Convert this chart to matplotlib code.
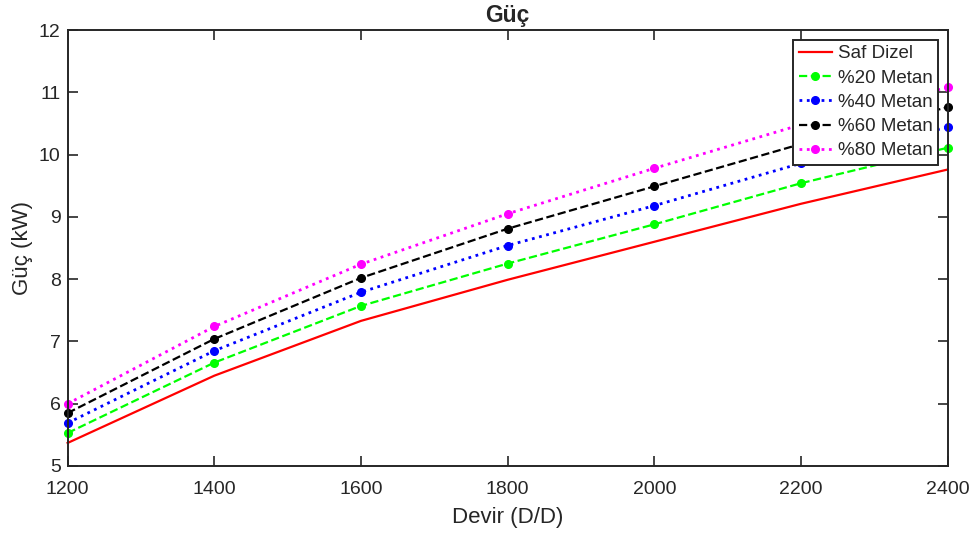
import matplotlib.pyplot as plt

plt.rcParams['font.family'] = ['Liberation Sans', 'DejaVu Sans']
plt.rcParams['text.color'] = '#262626'
plt.rcParams['axes.labelcolor'] = '#262626'

# Devir (D/D) and power values
devir = [1200, 1400, 1600, 1800, 2000, 2200, 2400]
saf_dizel = [5.37, 6.45, 7.33, 7.99, 8.60, 9.21, 9.76]
metan20 = [5.53, 6.66, 7.57, 8.25, 8.88, 9.54, 10.11]
metan40 = [5.69, 6.85, 7.79, 8.54, 9.18, 9.86, 10.44]
metan60 = [5.85, 7.04, 8.02, 8.81, 9.49, 10.17, 10.76]
metan80 = [6.00, 7.24, 8.24, 9.05, 9.78, 10.48, 11.08]

fig = plt.figure(figsize=(9.8, 5.36), dpi=100)
ax = fig.add_axes([0.069, 0.1306, 0.898, 0.8134])

ax.plot(devir, saf_dizel, '-', color='red', lw=1.6, label='Saf Dizel', clip_on=False)
ax.plot(devir, metan20, '--', color='#00ff00', marker='o', ms=5.5, lw=1.6, label='%20 Metan', clip_on=False)
ax.plot(devir, metan40, ':', color='blue', marker='o', ms=5.5, lw=2, label='%40 Metan', clip_on=False)
ax.plot(devir, metan60, '--', color='black', marker='o', ms=5.5, lw=1.6, label='%60 Metan', clip_on=False)
ax.plot(devir, metan80, ':', color='magenta', marker='o', ms=5.5, lw=2, label='%80 Metan', clip_on=False)

ax.set_xlim(1200, 2400)
ax.set_ylim(5, 12)
ax.set_xticks(range(1200, 2401, 200))
ax.set_yticks(range(5, 13))
ax.tick_params(direction='in', top=True, right=True, labelsize=14, length=7, width=1.2,
               colors='#262626')
ax.tick_params(axis='x', pad=11)
ax.tick_params(axis='y', pad=5)
for s in ax.spines.values():
    s.set_linewidth(1.4)
    s.set_color('#262626')

ax.set_xlabel('Devir (D/D)', fontsize=16, labelpad=6)
ax.set_ylabel('Güç (kW)', fontsize=16, labelpad=4)
ax.set_title('Güç', fontsize=16.5, fontweight='bold', pad=6)

leg = ax.legend(loc='upper right', bbox_to_anchor=(0.9895, 0.978), fontsize=13.5,
                frameon=True, fancybox=False, handlelength=1.8, borderpad=0.3,
                labelspacing=0.38, handletextpad=0.3, borderaxespad=0)
leg.get_frame().set_edgecolor('#262626')
leg.get_frame().set_linewidth(1.4)
leg.get_frame().set_alpha(1)

plt.savefig('out.png')
